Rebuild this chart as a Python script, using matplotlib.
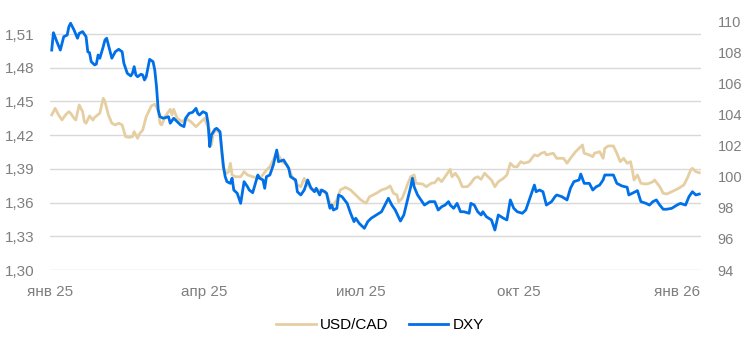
import matplotlib
matplotlib.use("Agg")
import matplotlib.pyplot as plt
import matplotlib.dates as mdates
import pandas as pd

plt.rcParams['font.family'] = ['Liberation Sans', 'DejaVu Sans']

start = pd.Timestamp("2025-01-01")

# days since 2025-01-01
cad_days = [1, 3, 5, 7, 9, 11, 12, 14, 15, 17, 19, 20, 21, 23, 25, 26, 29, 31, 32, 34,
            36, 38, 40, 42, 44, 46, 48, 49, 51, 52, 54, 56, 59, 61, 63, 64, 65, 67, 70, 71,
            72, 74, 77, 79, 82, 85, 87, 90, 91, 93, 94, 95, 97, 99, 100, 101, 103, 104, 105, 106,
            108, 111, 113, 115, 118, 121, 123, 126, 128, 130, 132, 135, 138, 141, 144, 146, 148, 150, 152, 155,
            158, 161, 163, 165, 167, 169, 172, 175, 178, 181, 184, 186, 190, 193, 196, 198, 200, 202, 203, 205,
            207, 208, 210, 212, 213, 217, 219, 222, 224, 226, 228, 230, 233, 234, 236, 238, 240, 243, 245, 247,
            249, 251, 253, 255, 257, 259, 261, 264, 266, 268, 270, 272, 274, 276, 279, 282, 284, 286, 288, 289,
            293, 295, 297, 299, 301, 303, 306, 308, 310, 311, 314, 316, 317, 320, 322, 323, 325, 328, 330, 332,
            334, 336, 338, 339, 340, 342, 344, 347, 349, 351, 352, 355, 357, 359, 362, 366, 369, 371, 373, 374,
            376, 378]
usdcad = [1.4380, 1.4439, 1.4380, 1.4335, 1.4380, 1.4409, 1.4395, 1.4350, 1.4335, 1.4469,
          1.4409, 1.4320, 1.4306, 1.4371, 1.4335, 1.4359, 1.4395, 1.4528, 1.4498, 1.4380,
          1.4306, 1.4291, 1.4306, 1.4291, 1.4186, 1.4181, 1.4186, 1.4231, 1.4172, 1.4210,
          1.4246, 1.4364, 1.4460, 1.4475, 1.4424, 1.4306, 1.4291, 1.4364, 1.4430, 1.4380,
          1.4430, 1.4350, 1.4320, 1.4350, 1.4320, 1.4275, 1.4306, 1.4350, 1.4306, 1.4246,
          1.4113, 1.4217, 1.4246, 1.4217, 1.4039, 1.3890, 1.3861, 1.3875, 1.3950, 1.3846,
          1.3830, 1.3830, 1.3875, 1.3846, 1.3830, 1.3816, 1.3830, 1.3890, 1.3919, 1.3979,
          1.4053, 1.3964, 1.3935, 1.3830, 1.3757, 1.3741, 1.3816, 1.3757, 1.3727, 1.3712,
          1.3712, 1.3683, 1.3594, 1.3579, 1.3623, 1.3712, 1.3736, 1.3712, 1.3668, 1.3623,
          1.3594, 1.3652, 1.3683, 1.3712, 1.3727, 1.3748, 1.3683, 1.3668, 1.3608, 1.3638,
          1.3712, 1.3757, 1.3830, 1.3846, 1.3772, 1.3765, 1.3741, 1.3772, 1.3777, 1.3816,
          1.3786, 1.3830, 1.3896, 1.3830, 1.3861, 1.3816, 1.3741, 1.3741, 1.3772, 1.3816,
          1.3830, 1.3807, 1.3861, 1.3830, 1.3801, 1.3741, 1.3786, 1.3816, 1.3846, 1.3950,
          1.3919, 1.3919, 1.3964, 1.3950, 1.3964, 1.4024, 1.4015, 1.4039, 1.4048, 1.4024,
          1.4039, 1.3994, 1.3994, 1.3994, 1.3950, 1.3994, 1.4053, 1.4083, 1.4113, 1.4039,
          1.4024, 1.4008, 1.4039, 1.4053, 1.3994, 1.4083, 1.4104, 1.4104, 1.4039, 1.3964,
          1.3994, 1.3950, 1.3964, 1.3890, 1.3801, 1.3846, 1.3772, 1.3765, 1.3772, 1.3786,
          1.3801, 1.3741, 1.3683, 1.3676, 1.3697, 1.3727, 1.3757, 1.3816, 1.3890, 1.3905,
          1.3875, 1.3866]

dxy_days = [1, 2, 4, 6, 8, 10, 11, 12, 14, 16, 17, 19, 21, 22, 23, 24, 26, 27, 28, 29,
            31, 32, 33, 35, 36, 38, 40, 42, 43, 45, 47, 48, 49, 50, 51, 53, 54, 55, 56, 58,
            60, 61, 62, 63, 64, 66, 69, 70, 72, 74, 76, 78, 79, 81, 83, 85, 86, 87, 89, 91,
            92, 93, 94, 96, 97, 99, 100, 101, 102, 103, 105, 106, 107, 109, 111, 113, 115, 116, 118, 119,
            121, 122, 124, 125, 126, 128, 130, 132, 133, 136, 139, 140, 143, 144, 146, 148, 150, 152, 154, 155,
            157, 158, 160, 161, 163, 164, 165, 167, 168, 170, 173, 175, 177, 178, 180, 183, 185, 187, 190, 193,
            195, 197, 199, 201, 204, 206, 208, 210, 211, 212, 214, 218, 221, 224, 226, 228, 230, 232, 233, 235,
            237, 239, 241, 244, 245, 247, 249, 251, 252, 254, 257, 259, 261, 264, 266, 268, 270, 272, 275, 277,
            279, 282, 283, 285, 287, 289, 292, 294, 295, 298, 301, 303, 305, 308, 309, 311, 314, 316, 318, 320,
            322, 323, 326, 328, 330, 333, 336, 337, 339, 342, 344, 347, 349, 351, 353, 355, 357, 359, 362, 365,
            367, 370, 372, 374, 376, 378]
dxy = [108.19, 109.31, 108.73, 108.19, 109.05, 109.16, 109.70, 109.92, 109.48, 108.95,
       109.27, 109.38, 109.05, 108.08, 108.02, 107.44, 107.23, 107.29, 107.87, 107.66,
       108.41, 108.84, 108.95, 108.08, 107.66, 108.08, 108.24, 108.08, 107.34, 106.69,
       106.52, 106.69, 107.12, 106.58, 106.47, 106.63, 106.58, 106.26, 106.47, 107.59,
       107.44, 106.90, 105.83, 104.32, 103.89, 103.79, 103.89, 103.47, 103.79, 103.57,
       103.36, 103.25, 103.79, 104.11, 104.17, 104.43, 104.11, 104.00, 104.21, 104.11,
       103.47, 101.96, 102.71, 103.08, 103.14, 102.92, 101.74, 100.66, 100.02, 99.70,
       99.59, 99.92, 99.16, 98.95, 98.30, 99.70, 99.37, 99.16, 98.99, 99.37,
       100.13, 99.92, 99.81, 99.27, 100.02, 100.13, 100.77, 101.74, 100.99, 101.10,
       100.56, 100.02, 99.81, 99.05, 98.84, 99.16, 99.81, 99.27, 99.05, 99.27,
       98.84, 99.16, 99.05, 98.95, 97.98, 98.19, 97.87, 97.98, 98.84, 98.73,
       98.30, 97.66, 97.12, 97.34, 97.01, 96.69, 97.12, 97.34, 97.55, 97.76,
       98.19, 98.63, 98.19, 97.87, 97.16, 97.55, 98.45, 99.37, 99.92, 99.37,
       98.84, 98.19, 98.41, 98.41, 97.87, 98.08, 98.19, 98.41, 98.19, 97.98,
       98.30, 97.76, 97.76, 97.66, 98.30, 98.19, 97.76, 97.55, 97.76, 97.44,
       97.23, 96.58, 97.55, 97.34, 97.23, 98.52, 97.98, 97.76, 97.66, 97.87,
       98.52, 99.48, 99.05, 99.16, 99.05, 98.19, 98.41, 98.73, 98.84, 98.73,
       98.52, 99.27, 99.70, 99.81, 100.19, 99.59, 99.59, 99.16, 99.37, 99.48,
       99.81, 100.13, 100.13, 100.13, 99.59, 99.42, 99.34, 98.84, 98.95, 99.12,
       98.41, 98.30, 98.19, 98.41, 98.52, 98.19, 97.92, 97.92, 97.98, 98.19,
       98.30, 98.19, 98.73, 99.05, 98.84, 98.90]

tick_dates = ["2025-01-01", "2025-04-01", "2025-07-01", "2025-10-01", "2026-01-01"]
tick_labels = ["янв 25", "апр 25", "июл 25", "окт 25", "янв 26"]
left_ticks = [1.30, 1.33, 1.36, 1.39, 1.42, 1.45, 1.48, 1.51]
right_ticks = [94, 96, 98, 100, 102, 104, 106, 108, 110]

cad_dates = start + pd.to_timedelta(cad_days, unit="D")
dxy_dates = start + pd.to_timedelta(dxy_days, unit="D")

fig = plt.figure(figsize=(7.46, 3.55), dpi=100)
ax = fig.add_axes([50 / 746, 85 / 355, 651 / 746, 248 / 355])
ax2 = ax.twinx()

beige = "#E5CFA2"
blue = "#0070E8"
gray = "#7F7F7F"

l1, = ax.plot(cad_dates, usdcad, color=beige, lw=2.0, label="USD/CAD")
l2, = ax2.plot(dxy_dates, dxy, color=blue, lw=2.0, label="DXY")

ax.set_ylim(1.30, 1.5207)
ax2.set_ylim(94, 110)
ax.set_yticks(left_ticks)
ax.set_yticklabels([f"{v:.2f}".replace(".", ",") for v in left_ticks])
ax2.set_yticks(right_ticks)
ax2.set_yticklabels([str(v) for v in right_ticks])

x0 = mdates.date2num(start)
ax.set_xlim(x0 + 0.6, x0 + 379)
ax.set_xticks(mdates.date2num(pd.to_datetime(tick_dates)))
ax.set_xticklabels(tick_labels)

ax.grid(axis="y", color="#D9D9D9", lw=1)
ax.set_axisbelow(True)
for a in (ax, ax2):
    for s in a.spines.values():
        s.set_visible(False)
ax.tick_params(axis="y", length=0, pad=11, labelsize=11, labelcolor=gray)
ax.tick_params(axis="x", length=0, pad=11, labelsize=11, labelcolor=gray)
ax2.tick_params(axis="y", length=0, pad=12, labelsize=10.5, labelcolor=gray)

fig.legend(handles=[l1, l2], loc="center", bbox_to_anchor=(380 / 746, 1 - 325 / 355),
           ncol=2, frameon=False, fontsize=11, handlelength=2.6, handletextpad=0.3,
           columnspacing=1.3)

fig.savefig("out.png", dpi=100)
